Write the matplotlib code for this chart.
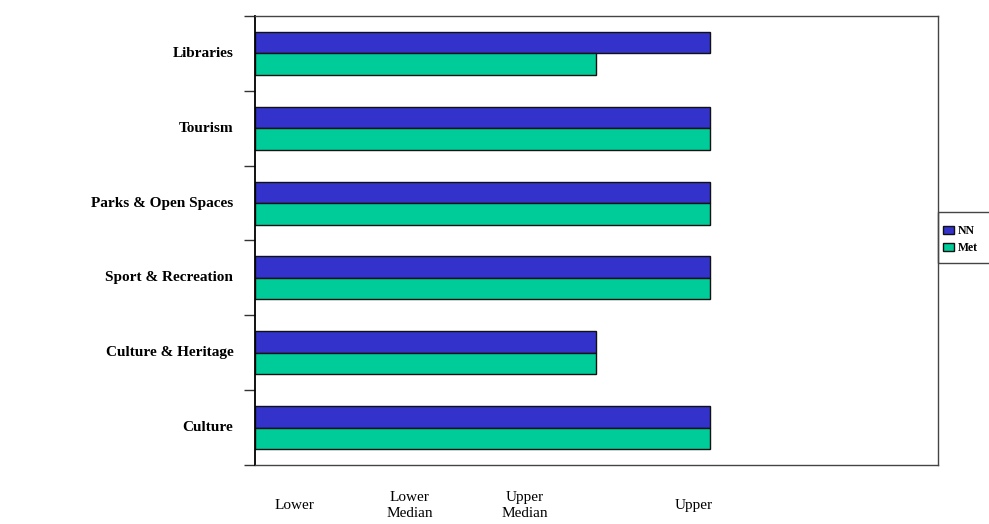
import numpy as np
import matplotlib.pyplot as plt
import matplotlib.transforms as mtransforms
from matplotlib.patches import Rectangle

# categories from bottom to top
categories = ['Culture', 'Culture & Heritage', 'Sport & Recreation',
              'Parks & Open Spaces', 'Tourism', 'Libraries']
nn_vals = [4, 3, 4, 4, 4, 4]
met_vals = [4, 3, 4, 4, 4, 3]
level_labels = ['Lower', 'Lower\nMedian', 'Upper\nMedian', 'Upper']
level_pos = [0.35, 1.36, 2.37, 3.85]

plt.rcParams['font.family'] = ['Liberation Serif', 'DejaVu Serif']

fig = plt.figure(figsize=(9.89, 5.24), dpi=100)
ax = fig.add_axes([0.2578, 0.1126, 0.6906, 0.8569])

y = np.arange(len(categories))
h = 0.287
ax.barh(y + h / 2, nn_vals, height=h, color='#3333CC', edgecolor='#111111',
        linewidth=1.0, label='NN')
ax.barh(y - h / 2, met_vals, height=h, color='#00CC99', edgecolor='#111111',
        linewidth=1.0, label='Met')

ax.set_xlim(0, 6)
ax.set_ylim(-0.5, len(categories) - 0.5)
ax.set_xticks([])

# category labels sit between the boundary ticks
ax.set_yticks(np.arange(-0.5, len(categories), 1.0))
ax.set_yticklabels([])
ax.tick_params(axis='y', length=8, width=1, color='#333333')
for yi, name in zip(y, categories):
    ax.text(-0.19, yi, name, ha='right', va='center', fontsize=11,
            fontweight='bold')

for sp in ['top', 'right', 'bottom']:
    ax.spines[sp].set_color('#444444')
    ax.spines[sp].set_linewidth(1.0)
ax.spines['left'].set_color('black')
ax.spines['left'].set_linewidth(1.3)

trans = mtransforms.blended_transform_factory(ax.transData, ax.transAxes)
for xp, lab in zip(level_pos, level_labels):
    ax.text(xp, -0.09, lab, transform=trans, ha='center', va='center',
            fontsize=11, linespacing=1.3)

leg = ax.legend(loc='center left', bbox_to_anchor=(1.0, 0.502),
                borderaxespad=0, frameon=False, borderpad=0.45,
                handlelength=0.95, handleheight=0.6, handletextpad=0.3,
                labelspacing=0.4, prop={'weight': 'bold', 'size': 8.5})

# legend box runs off the right edge of the figure
fig.patches.append(Rectangle((938 / 989, 1 - 263 / 524), 0.08, 51 / 524,
                             transform=fig.transFigure, fill=False,
                             edgecolor='#444444', linewidth=1.0))

fig.savefig('out.png', dpi=100)
